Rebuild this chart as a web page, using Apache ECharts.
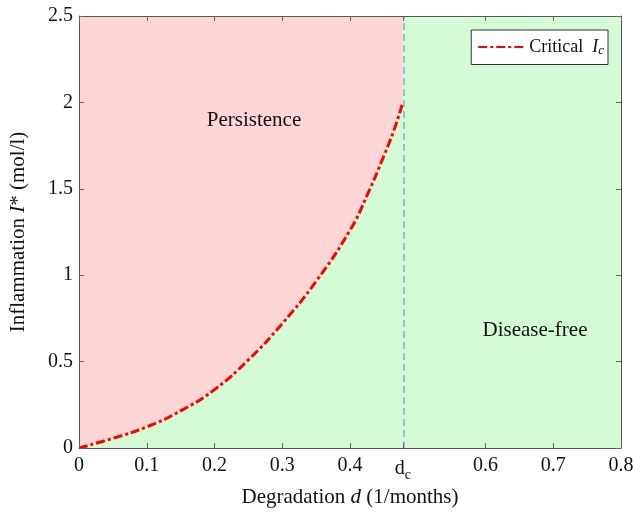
<!DOCTYPE html>
<html>
<head>
<meta charset="utf-8">
<script src="https://cdn.jsdelivr.net/npm/echarts@6/dist/echarts.min.js"></script>
<style>
  html, body { margin: 0; padding: 0; background: #fff; }
  #chart { width: 633px; height: 512px; }
</style>
</head>
<body>
<div id="chart"></div>
<script>
// 临界退化率
var dc = 0.478
// 临界曲线
var dVals = [0, 0.05, 0.1, 0.15, 0.2, 0.25, 0.3, 0.35, 0.4, 0.425, 0.45, 0.465, 0.478]
var icVals = [0, 0.056, 0.122, 0.215, 0.338, 0.51, 0.72, 0.965, 1.26, 1.46, 1.69, 1.84, 2.0]
var xTicks = [0, 0.1, 0.2, 0.3, 0.4, dc, 0.6, 0.7, 0.8]
var yTicks = [0, 0.5, 1, 1.5, 2, 2.5]
var regionNames = ['Persistence', 'Disease-free']

var myChart = echarts.init(document.getElementById('chart'))
var font = 'Liberation Serif'
var axisColor = '#555'
var tickStyle = { color: '#666', width: 1 }

var curve = dVals.map(function (d, i) { return [d, icVals[i]] })

// 边框轴 (上/右), 只画刻度
function frameAxis(pos, extra) {
    var a = {
        type: 'value', position: pos, z: 10,
        axisLine: { show: true, onZero: false, lineStyle: { color: axisColor, width: 1 } },
        axisTick: { show: true, inside: true, length: 5, lineStyle: tickStyle },
        axisLabel: { show: false },
        splitLine: { show: false }
    }
    return Object.assign(a, extra)
}

var option = {
    animation: false,
    backgroundColor: '#fff',
    textStyle: { fontFamily: font },
    grid: {
        left: 79, right: 12, top: 16, bottom: 64,
        outerBoundsMode: 'none',
        show: true,
        backgroundColor: '#d4fcd4',
        borderWidth: 0
    },
    legend: {
        data: ['Critical Ic'],
        right: 25, top: 30,
        orient: 'vertical',
        backgroundColor: '#fff',
        borderColor: '#333',
        borderWidth: 1,
        borderRadius: 0,
        padding: [8, 4, 7, 6],
        itemWidth: 46,
        itemHeight: 12,
        itemGap: 0,
        itemStyle: { opacity: 0 },
        formatter: function () { return 'Critical  {i|I}{s|c}' },
        textStyle: {
            fontFamily: font, fontSize: 18, color: '#111',
            rich: {
                i: { fontFamily: font, fontStyle: 'italic', fontSize: 18, color: '#111' },
                s: { fontFamily: font, fontStyle: 'italic', fontSize: 13, color: '#111', verticalAlign: 'bottom', padding: [8, 0, 0, 0] }
            }
        }
    },
    xAxis: [{
        type: 'value', min: 0, max: 0.8,
        z: 10,
        name: 'Degradation {i|d} (1/months)',
        nameLocation: 'middle', nameGap: 39,
        nameTextStyle: {
            fontFamily: font, fontSize: 21, color: '#111',
            rich: { i: { fontFamily: font, fontSize: 21, fontStyle: 'italic', color: '#111' } }
        },
        axisLine: { show: true, onZero: false, lineStyle: { color: axisColor, width: 1 } },
        axisTick: { show: true, inside: true, length: 5, customValues: xTicks, lineStyle: tickStyle },
        splitLine: { show: false },
        axisLabel: {
            customValues: xTicks,
            margin: 8,
            fontFamily: font, fontSize: 20, color: '#111',
            formatter: function (v) {
                if (Math.abs(v - dc) < 1e-6) return 'd{s|c}'
                return v === 0 ? '0' : String(+v.toFixed(1))
            },
            rich: {
                s: { fontFamily: font, fontSize: 14, color: '#111', verticalAlign: 'bottom', padding: [12, 0, 0, 0] }
            }
        }
    }, frameAxis('top', {
        min: 0, max: 0.8,
        axisTick: { show: true, inside: true, length: 5, customValues: xTicks, lineStyle: tickStyle }
    })],
    yAxis: [{
        type: 'value', min: 0, max: 2.5, interval: 0.5,
        z: 10,
        name: 'Inflammation {i|I}* (mol/l)',
        nameLocation: 'middle', nameGap: 50,
        nameTextStyle: {
            fontFamily: font, fontSize: 21, color: '#111',
            rich: { i: { fontFamily: font, fontSize: 21, fontStyle: 'italic', color: '#111' } }
        },
        axisLine: { show: true, onZero: false, lineStyle: { color: axisColor, width: 1 } },
        axisTick: { show: true, inside: true, length: 5, lineStyle: tickStyle },
        splitLine: { show: false },
        axisLabel: {
            margin: 6,
            fontFamily: font, fontSize: 20, color: '#111',
            formatter: function (v) { return String(v) }
        }
    }, frameAxis('right', { min: 0, max: 2.5, interval: 0.5 })],
    series: [{
        // 持续区域 (粉色)
        name: 'persist',
        type: 'line',
        data: curve,
        smooth: true,
        symbol: 'none',
        silent: true,
        lineStyle: { width: 0 },
        areaStyle: { origin: 'end', color: '#ffd6d6', opacity: 1 },
        z: 1
    }, {
        name: 'Critical Ic',
        type: 'line',
        data: curve,
        smooth: true,
        symbol: 'none',
        color: '#ff0000',
        lineStyle: { color: '#ff0000', width: 3, type: [9, 3, 3, 3] },
        markLine: {
            silent: true,
            symbol: 'none',
            label: { show: false },
            lineStyle: { color: '#78b4cc', type: [7, 4], width: 1.5 },
            data: [{ xAxis: dc }]
        },
        z: 3
    }],
    graphic: [{
        type: 'text', x: 254, y: 120, z: 100,
        style: { text: regionNames[0], font: '21px "Liberation Serif"', fill: '#111', align: 'center', verticalAlign: 'middle' }
    }, {
        type: 'text', x: 535, y: 330, z: 100,
        style: { text: regionNames[1], font: '21px "Liberation Serif"', fill: '#111', align: 'center', verticalAlign: 'middle' }
    }]
}
myChart.setOption(option)
window.addEventListener('resize', function () {
    myChart.resize()
})
</script>
</body>
</html>
